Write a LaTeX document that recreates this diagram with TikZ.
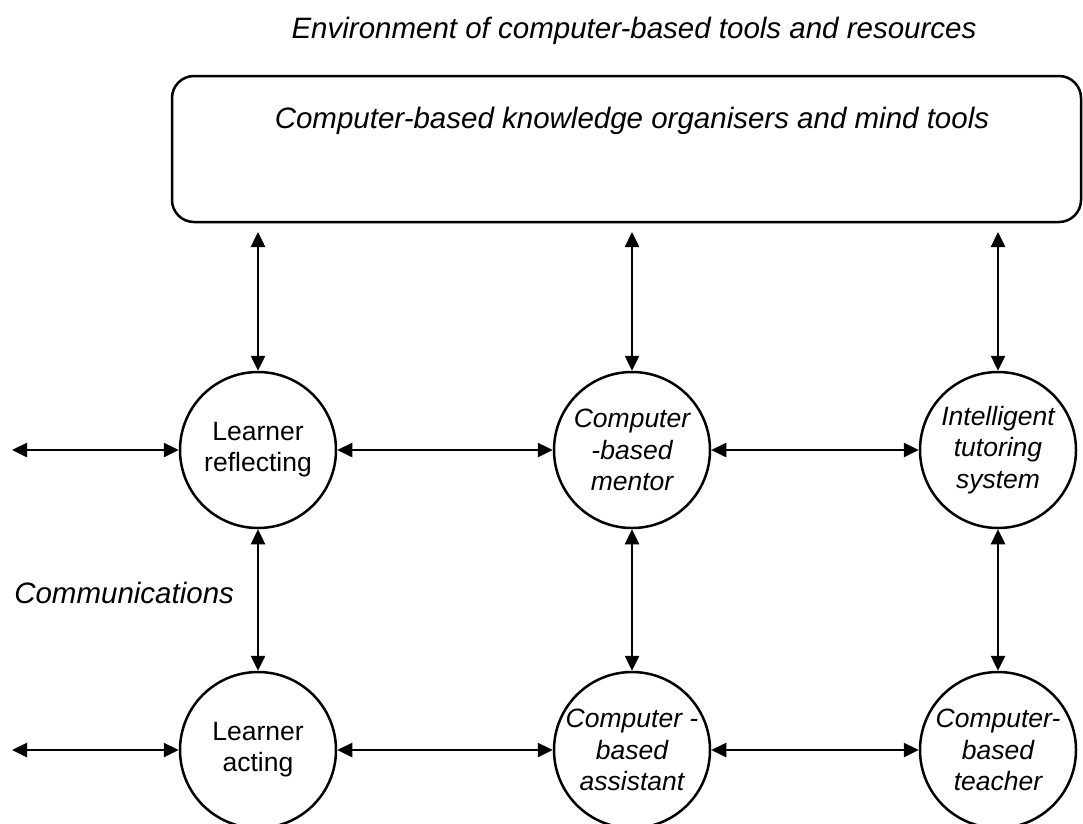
\documentclass[tikz,border=0pt]{standalone}
\usepackage{fontspec}
\setmainfont{Liberation Sans}
\usepackage{tikz}
\usetikzlibrary{arrows.meta,positioning}

\begin{document}
\begin{tikzpicture}[x = 1pt, y = -1pt, line width = 2.5pt, >={Triangle[length = 15pt, width = 14pt]},
circ/.style = {draw, shape = circle, inner sep = 0pt, minimum size = 156pt, align = center, font = \fontsize{26.5}{31}\selectfont},
circit/.style = {circ, font = \fontsize{26.5}{31.5}\selectfont\itshape},
big/.style = {font = \fontsize{29.5}{35}\selectfont\itshape, inner sep = 0pt, anchor = base}]
\useasboundingbox (0,0) rectangle (1083,823);
\node[big] (title) at (634,38) {Environment of computer-based tools and resources};
\node[draw, shape = rectangle, rounded corners = 22pt, minimum width = 909pt, minimum height = 146pt, inner sep = 0pt] (0) at (626.5,149) {};
\node[big] (0t) at (632,128) {Computer-based knowledge organisers and mind tools};
\node[circ] (10) at (258,450) {Learner\\reflecting};
\node[circit] (11) at (632,450) {Computer\\-based\\mentor};
\node[circit] (12) at (998,450) {Intelligent\\tutoring\\system};
\node[circ] (20) at (258,750) {Learner\\acting};
\node[circit] (21) at (632,750) {Computer -\\based\\assistant};
\node[circit] (22) at (998,750) {Computer-\\based\\teacher};
\node[big, anchor = base west] (comm) at (13,603) {Communications};
\coordinate (a10) at (258,232);
\coordinate (a11) at (632,232);
\coordinate (a12) at (998,232);
\coordinate (l10) at (12,450);
\coordinate (l20) at (12,750);
\draw[<->] (a10) -- (10);
\draw[<->] (a11) -- (11);
\draw[<->] (a12) -- (12);
\draw[<->] (l10) -- (10);
\draw[<->] (10) -- (11);
\draw[<->] (11) -- (12);
\draw[<->] (l20) -- (20);
\draw[<->] (20) -- (21);
\draw[<->] (21) -- (22);
\draw[<->] (10) -- (20);
\draw[<->] (11) -- (21);
\draw[<->] (12) -- (22);
\end{tikzpicture}
\end{document}
